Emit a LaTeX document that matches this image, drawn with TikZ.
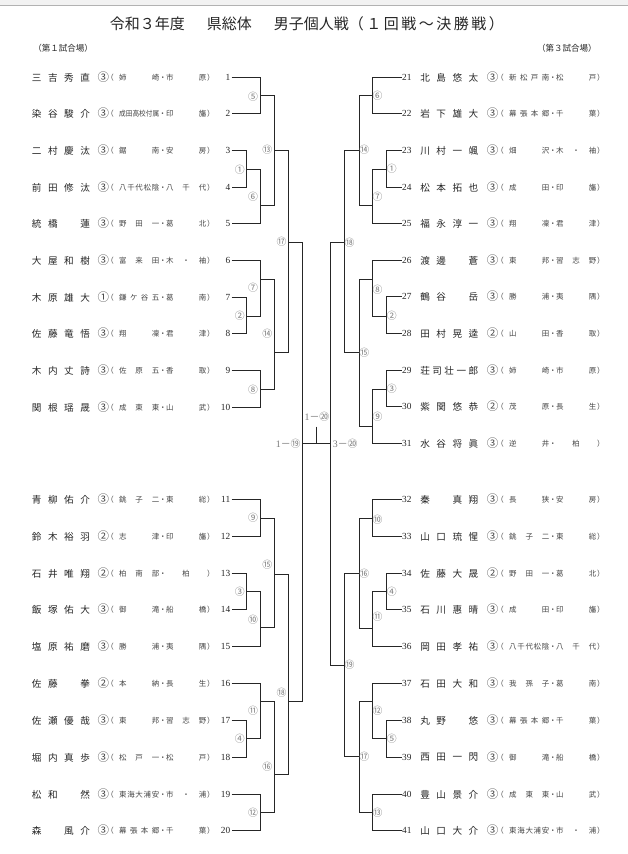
\documentclass[tikz,border=0pt]{standalone}
\usepackage{fontspec}
\usepackage{graphicx}
\setmainfont{Noto Sans CJK JP}
\newfontfamily\numfont{Liberation Serif}
\usetikzlibrary{positioning}
\definecolor{ink}{HTML}{262626}
\definecolor{txtgrey}{HTML}{454545}
\definecolor{lblgrey}{HTML}{7A7A7A}

\newlength\upx \setlength\upx{0.75pt}
\newlength\fldw
% spread characters over a fixed width (centred when only one)
\def\spreadaux#1{\ifx#1\relax\else#1\expandafter\spreadnext\fi}
\def\spreadnext#1{\ifx#1\relax\else\hskip0pt plus1fill\relax#1\expandafter\spreadnext\fi}
\newcommand\fld[2]{\settowidth\fldw{#2}%
  \ifdim\fldw>#1\relax\resizebox{#1}{\height}{#2}%
  \else\makebox[#1][s]{\hskip0pt plus1fil\relax\expandafter\spreadaux#2\relax\hskip0pt plus1fil\relax}\fi}

\begin{document}
\begin{tikzpicture}[
  x=0.75pt, y=-0.75pt,
  ttl/.style={inner sep=0pt, anchor=west, text=ink, font=\fontsize{11.25}{12}\selectfont},
  hdr/.style={inner sep=0pt, text=ink, font=\fontsize{6.4}{7}\selectfont},
  numL/.style={inner xsep=0.9pt, inner ysep=0pt, anchor=east, text=ink, font=\numfont\fontsize{7}{7}\selectfont},
  numR/.style={inner xsep=0.3pt, inner ysep=0pt, anchor=west, text=ink, font=\numfont\fontsize{7}{7}\selectfont},
  namef/.style={inner sep=0pt, anchor=west, text=ink, font=\fontsize{7.2}{7.5}\selectfont},
  grade/.style={inner sep=0pt, text=txtgrey, font=\fontsize{8.6}{9}\selectfont},
  school/.style={inner sep=0pt, anchor=west, text=txtgrey, font=\fontsize{5.6}{6}\selectfont},
  rnd/.style={inner sep=0pt, text=lblgrey, font=\fontsize{7.4}{8}\selectfont},
  bline/.style={line width=1pt, ink}
]
\useasboundingbox (0,0) rectangle (628,854);
\fill[white] (0,0) rectangle (628,854);
\fill[black!5] (0,0) rectangle (628,5);
\draw[black!30, line width=0.6pt] (0,5.5) -- (628,5.5);

\node[ttl] (title) at (109.5,23.5) {令和３年度\hspace{22\upx}県総体\hspace{22\upx}男子個人戦\fld{155\upx}{（１回戦～決勝戦）}};
\node[hdr, anchor=west] (hd1) at (33,48) {（第１試合場）};
\node[hdr, anchor=east] (hd3) at (597,48) {（第３試合場）};

% entries, left
\foreach \i/\nm/\gr/\sc/\rg in {1/三吉秀直/③/姉崎/市原, 2/染谷駿介/③/成田高校付属/印旛,
  3/二村慶汰/③/鋸南/安房, 4/前田修汰/③/八千代松陰/八千代, 5/統橋　蓮/③/野田一/葛北,
  6/大屋和樹/③/富来田/木・袖, 7/木原雄大/①/鎌ケ谷五/葛南, 8/佐藤竜悟/③/翔凜/君津,
  9/木内丈詩/③/佐原五/香取, 10/関根瑶晟/③/成東東/山武, 11/青柳佑介/③/銚子二/東総,
  12/鈴木裕羽/②/志津/印旛, 13/石井唯翔/②/柏南部/柏, 14/飯塚佑大/③/御滝/船橋,
  15/塩原祐磨/③/勝浦/夷隅, 16/佐藤　拳/②/本納/長生, 17/佐瀬優哉/③/東邦/習志野,
  18/堀内真歩/③/松戸一/松戸, 19/松和　然/③/東海大浦安/市・浦, 20/森　風介/③/幕張本郷/千葉}{
  \pgfmathsetmacro\yy{floor(\i<11 ? 77.3+(\i-1)*36.67 : 499.3+(\i-11)*36.85)+0.5}
  \node[numL] (p\i) at (231.7,\yy) {\i};
  \node[namef] (n\i) at (31.7,\yy) {\fld{58\upx}{\nm}};
  \node[grade] (g\i) at (103.3,\yy) {\gr};
  \node[school] (s\i) at (106,\yy) {（\hspace{5.5\upx}\fld{40\upx}{\sc}\makebox[7\upx]{・}\fld{40\upx}{\rg}\hspace{1\upx}）};
}

% entries, right
\foreach \i/\nm/\gr/\sc/\rg in {21/北島悠太/③/新松戸南/松戸, 22/岩下雄大/③/幕張本郷/千葉,
  23/川村一颯/③/畑沢/木・袖, 24/松本拓也/③/成田/印旛, 25/福永淳一/③/翔凜/君津,
  26/渡邊　蒼/③/東邦/習志野, 27/鶴谷　岳/③/勝浦/夷隅, 28/田村晃逵/②/山田/香取,
  29/荘司壮一郎/③/姉崎/市原, 30/紫関悠恭/②/茂原/長生, 31/水谷将眞/③/逆井/柏,
  32/秦　真翔/③/長狭/安房, 33/山口琉惺/③/銚子二/東総, 34/佐藤大晟/②/野田一/葛北,
  35/石川惠晴/③/成田/印旛, 36/岡田孝祐/③/八千代松陰/八千代, 37/石田大和/③/我孫子/葛南,
  38/丸野　悠/③/幕張本郷/千葉, 39/西田一閃/③/御滝/船橋, 40/豊山景介/③/成東東/山武,
  41/山口大介/③/東海大浦安/市・浦}{
  \pgfmathsetmacro\yy{floor(\i<32 ? 77.3+(\i-21)*36.6 : 499.3+(\i-32)*36.85)+0.5}
  \node[numR] (p\i) at (401.5,\yy) {\i};
  \node[namef] (n\i) at (420,\yy) {\fld{58\upx}{\nm}};
  \node[grade] (g\i) at (492.5,\yy) {\gr};
  \node[school] (s\i) at (496,\yy) {（\hspace{5.5\upx}\fld{40\upx}{\sc}\makebox[7\upx]{・}\fld{40\upx}{\rg}\hspace{1\upx}）};
}

% left bracket
\coordinate (m5L) at (260.5,95.5);
\coordinate (m1L) at (246.5,169.5);
\coordinate (m6L) at (260.5,205.5);
\coordinate (m13L) at (274.5,150.5);
\coordinate (m2L) at (246.5,316.5);
\coordinate (m7L) at (260.5,279.5);
\coordinate (m8L) at (260.5,389.5);
\coordinate (m14L) at (274.5,352.5);
\coordinate (m17L) at (288.5,242.5);
\coordinate (m9L) at (260.5,518.5);
\coordinate (m3L) at (246.5,591.5);
\coordinate (m10L) at (260.5,627.5);
\coordinate (m15L) at (274.5,574.5);
\coordinate (m4L) at (246.5,738.5);
\coordinate (m11L) at (260.5,701.5);
\coordinate (m12L) at (260.5,812.5);
\coordinate (m16L) at (274.5,774.5);
\coordinate (m18L) at (288.5,701.5);
\coordinate (m19L) at (302.5,443.5);

\draw[bline] (p1.east) -| (m5L) |- (p2.east);
\draw[bline] (p3.east) -| (m1L) |- (p4.east);
\draw[bline] (m1L) -| (m6L) |- (p5.east);
\draw[bline] (m5L) -| (m13L) |- (m6L);
\draw[bline] (p7.east) -| (m2L) |- (p8.east);
\draw[bline] (p6.east) -| (m7L) |- (m2L);
\draw[bline] (p9.east) -| (m8L) |- (p10.east);
\draw[bline] (m7L) -| (m14L) |- (m8L);
\draw[bline] (m13L) -| (m17L) |- (m14L);
\draw[bline] (p11.east) -| (m9L) |- (p12.east);
\draw[bline] (p13.east) -| (m3L) |- (p14.east);
\draw[bline] (m3L) -| (m10L) |- (p15.east);
\draw[bline] (m9L) -| (m15L) |- (m10L);
\draw[bline] (p17.east) -| (m4L) |- (p18.east);
\draw[bline] (p16.east) -| (m11L) |- (m4L);
\draw[bline] (p19.east) -| (m12L) |- (p20.east);
\draw[bline] (m11L) -| (m16L) |- (m12L);
\draw[bline] (m15L) -| (m18L) |- (m16L);
\draw[bline] (m17L) -| (m19L) |- (m18L);

% right bracket
\coordinate (m6R) at (372.5,95.5);
\coordinate (m1R) at (386.5,169.5);
\coordinate (m7R) at (372.5,205.5);
\coordinate (m14R) at (359.5,150.5);
\coordinate (m2R) at (386.5,316.5);
\coordinate (m8R) at (372.5,279.5);
\coordinate (m3R) at (386.5,389.5);
\coordinate (m9R) at (372.5,426.5);
\coordinate (m15R) at (359.5,352.5);
\coordinate (m18R) at (344.5,242.5);
\coordinate (m10R) at (372.5,518.5);
\coordinate (m4R) at (386.5,591.5);
\coordinate (m11R) at (372.5,628.5);
\coordinate (m16R) at (359.5,573.5);
\coordinate (m5R) at (386.5,738.5);
\coordinate (m12R) at (372.5,701.5);
\coordinate (m13R) at (372.5,812.5);
\coordinate (m17R) at (359.5,756.5);
\coordinate (m19R) at (344.5,665.5);
\coordinate (m20R) at (330.5,443.5);

\draw[bline] (p21.west) -| (m6R) |- (p22.west);
\draw[bline] (p23.west) -| (m1R) |- (p24.west);
\draw[bline] (m1R) -| (m7R) |- (p25.west);
\draw[bline] (m6R) -| (m14R) |- (m7R);
\draw[bline] (p27.west) -| (m2R) |- (p28.west);
\draw[bline] (p26.west) -| (m8R) |- (m2R);
\draw[bline] (p29.west) -| (m3R) |- (p30.west);
\draw[bline] (m3R) -| (m9R) |- (p31.west);
\draw[bline] (m8R) -| (m15R) |- (m9R);
\draw[bline] (m14R) -| (m18R) |- (m15R);
\draw[bline] (p32.west) -| (m10R) |- (p33.west);
\draw[bline] (p34.west) -| (m4R) |- (p35.west);
\draw[bline] (m4R) -| (m11R) |- (p36.west);
\draw[bline] (m10R) -| (m16R) |- (m11R);
\draw[bline] (p38.west) -| (m5R) |- (p39.west);
\draw[bline] (p37.west) -| (m12R) |- (m5R);
\draw[bline] (p40.west) -| (m13R) |- (p41.west);
\draw[bline] (m12R) -| (m17R) |- (m13R);
\draw[bline] (m16R) -| (m19R) |- (m17R);
\draw[bline] (m18R) -| (m20R) |- (m19R);

% final
\coordinate (fin) at (316.5,426.5);
\draw[bline] (m19L) -- (m20R);
\draw[bline] (fin) -- (fin |- m19L);
\node[rnd, anchor=east] (t19L) at (300.8,443.5) {{\numfont 1}－⑲};
\node[rnd, anchor=west] (t20R) at (332.6,443.5) {{\numfont 3}－⑳};
\node[rnd] (t20) at (317,416.7) {{\numfont 1}－⑳};

% round labels
\foreach \nm/\x/\y/\lab in {l5L/253/96.7/⑤, l1L/239.7/169.3/①, l6L/253/196.7/⑥,
  l13L/267.3/150/⑬, l7L/253/287.3/⑦, l2L/239.7/316/②, l8L/253/389.3/⑧,
  l14L/267.3/333.3/⑭, l17L/281.5/241.7/⑰, l9L/253/517.7/⑨, l3L/239.7/591.7/③,
  l10L/253/619.3/⑩, l15L/267.3/565/⑮, l11L/253/710.7/⑪, l4L/239.7/738.3/④,
  l12L/253/812.3/⑫, l16L/267.3/766.7/⑯, l18L/281.5/692.7/⑱,
  l6R/377.5/96/⑥, l1R/391.7/168.3/①, l7R/377.5/196.7/⑦, l14R/364.2/150/⑭,
  l8R/377.5/290/⑧, l2R/391.7/316/②, l3R/391.7/389/③, l9R/377.5/416.7/⑨,
  l15R/364.2/352.7/⑮, l18R/349.5/242.7/⑱, l10R/377.5/519.3/⑩, l4R/391.7/591.7/④,
  l11R/377.5/616.7/⑪, l16R/364.2/573.3/⑯, l12R/377.5/711/⑫, l5R/391.7/738.3/⑤,
  l13R/377.5/812.3/⑬, l17R/364.2/756.7/⑰, l19R/349.5/665/⑲}
  \node[rnd] (\nm) at (\x,\y) {\lab};
\end{tikzpicture}
\end{document}
